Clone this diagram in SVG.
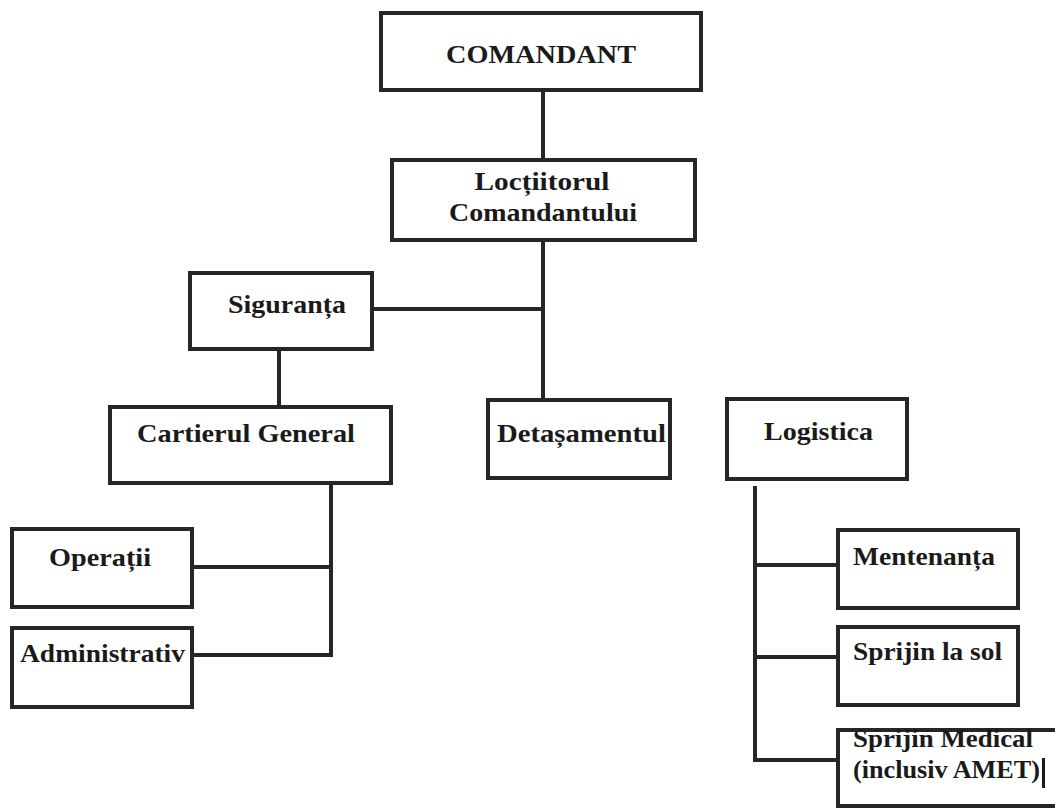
<svg xmlns="http://www.w3.org/2000/svg" width="1055" height="808" viewBox="0 0 1055 808">
<style>
.box{fill:#fff;stroke:#262626;stroke-width:4}
.ln{fill:none;stroke:#262626;stroke-width:4}
text{font-family:"Liberation Serif","Times New Roman",serif;font-weight:bold;fill:#1a1a1a;font-size:25px}
</style>
<rect width="1055" height="808" fill="#fff"/>
<g id="connectors">
<line class="ln" x1="543" y1="90" x2="543" y2="160"/>
<line class="ln" x1="543" y1="240" x2="543" y2="400"/>
<line class="ln" x1="372" y1="309" x2="543" y2="309"/>
<line class="ln" x1="279" y1="349" x2="279" y2="407"/>
<polyline class="ln" points="331,484 331,655 192,655"/>
<line class="ln" x1="192" y1="567" x2="331" y2="567"/>
<polyline class="ln" points="755,486 755,760 838,760"/>
<line class="ln" x1="755" y1="565" x2="838" y2="565"/>
<line class="ln" x1="755" y1="657" x2="838" y2="657"/>
</g>
<g id="comandant">
<rect class="box" x="381" y="13" width="320" height="77"/>
<text x="541" y="63" text-anchor="middle" font-size="27" textLength="190" lengthAdjust="spacingAndGlyphs">COMANDANT</text>
</g>
<g id="loctiitorul">
<rect class="box" x="392" y="160" width="303" height="80"/>
<text x="542" y="190" text-anchor="middle" textLength="135" lengthAdjust="spacingAndGlyphs">Locțiitorul</text>
<text x="543" y="221" text-anchor="middle" textLength="188" lengthAdjust="spacingAndGlyphs">Comandantului</text>
</g>
<g id="siguranta">
<rect class="box" x="190" y="273" width="182" height="76"/>
<text x="228" y="313" textLength="118" lengthAdjust="spacingAndGlyphs">Siguranța</text>
</g>
<g id="cartierul">
<rect class="box" x="110" y="407" width="281" height="76"/>
<text x="137" y="442" textLength="218" lengthAdjust="spacingAndGlyphs">Cartierul General</text>
</g>
<g id="detasamentul">
<rect class="box" x="488" y="400" width="182" height="78"/>
<text x="497" y="442" textLength="169" lengthAdjust="spacingAndGlyphs">Detașamentul</text>
</g>
<g id="logistica">
<rect class="box" x="727" y="399" width="180" height="80"/>
<text x="764" y="440" textLength="109" lengthAdjust="spacingAndGlyphs">Logistica</text>
</g>
<g id="operatii">
<rect class="box" x="12" y="529" width="180" height="78"/>
<text x="49" y="566" textLength="102" lengthAdjust="spacingAndGlyphs">Operații</text>
</g>
<g id="administrativ">
<rect class="box" x="12" y="628" width="180" height="79"/>
<text x="20" y="662" textLength="165" lengthAdjust="spacingAndGlyphs">Administrativ</text>
</g>
<g id="mentenanta">
<rect class="box" x="838" y="530" width="180" height="78"/>
<text x="853" y="565" textLength="142" lengthAdjust="spacingAndGlyphs">Mentenanța</text>
</g>
<g id="sprijin-sol">
<rect class="box" x="838" y="627" width="180" height="78"/>
<text x="853" y="660" textLength="149" lengthAdjust="spacingAndGlyphs">Sprijin la sol</text>
</g>
<g id="sprijin-medical">
<rect class="box" x="838" y="730" width="230" height="76"/>
<text x="853" y="747" textLength="180" lengthAdjust="spacingAndGlyphs">Sprijin Medical</text>
<text x="853" y="778" textLength="187" lengthAdjust="spacingAndGlyphs">(inclusiv AMET)</text>
<rect x="1042" y="758" width="3" height="30" fill="#1a1a1a"/>
</g>
</svg>
